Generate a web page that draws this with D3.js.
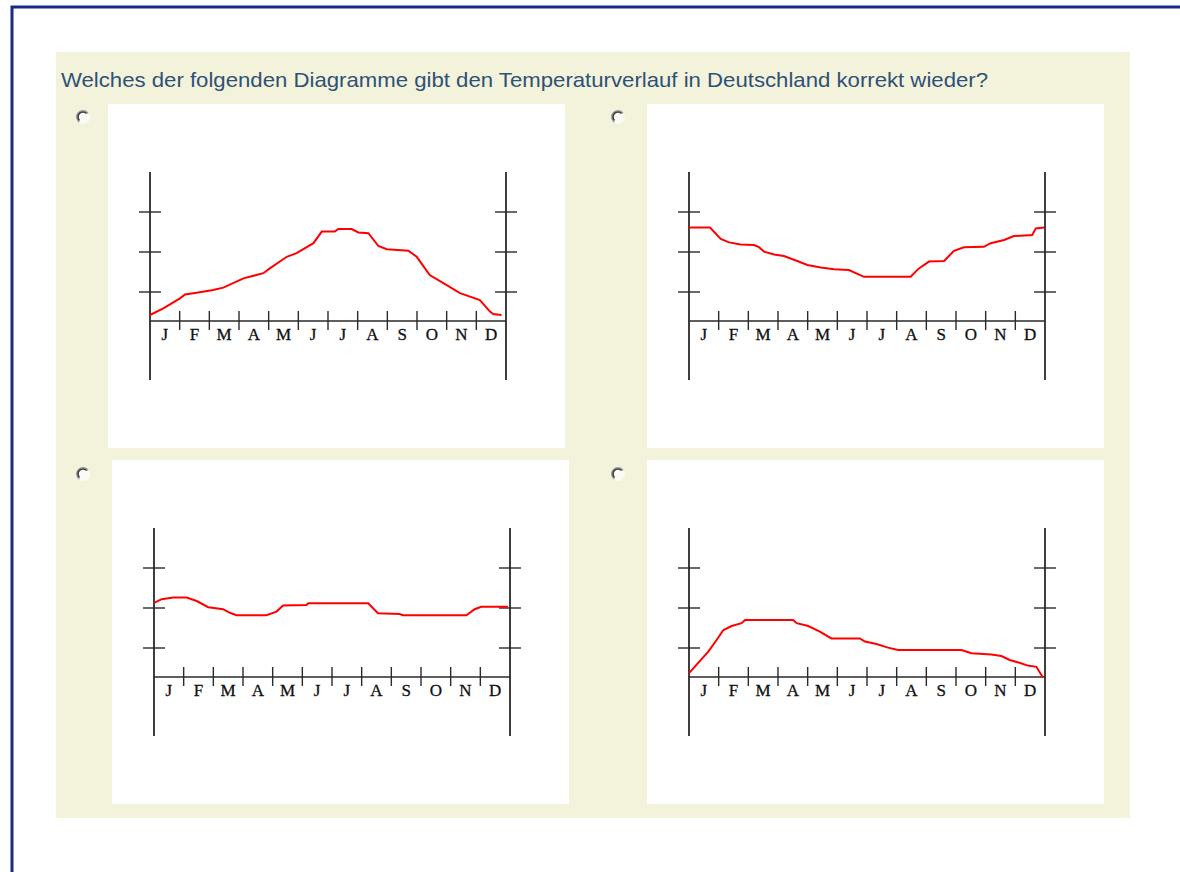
<!DOCTYPE html>
<html>
<head>
<meta charset="utf-8">
<script src="https://cdn.jsdelivr.net/npm/d3@7"></script>
<style>
  body { margin: 0; background: #fff; }
  svg { display: block; }
</style>
</head>
<body>
<div id="chart"></div>
<script>
// Fragetext und Monatsachse
const question = "Welches der folgenden Diagramme gibt den Temperaturverlauf in Deutschland korrekt wieder?";
const months = ["J", "F", "M", "A", "M", "J", "J", "A", "S", "O", "N", "D"];
const tempTicks = [0, 10, 20];

const curveA = [[0, -5.75], [0.45, -4.1], [1.01, -1.6], [1.18, -0.6], [1.57, -0.2], [2.13, 0.5], [2.47, 1.1],
    [3.15, 3.4], [3.82, 4.7], [4.04, 5.9], [4.61, 8.8], [4.94, 9.7], [5.51, 12.2], [5.79, 15.1], [6.23, 15.1],
    [6.35, 15.75], [6.8, 15.75], [7.02, 14.9], [7.36, 14.7], [7.7, 11.5], [7.98, 10.7], [8.71, 10.3], [8.99, 8.8],
    [9.43, 4.25], [9.89, 2.2], [10.45, -0.3], [11.12, -2], [11.46, -4.9], [11.57, -5.5], [11.85, -5.75]];

const curveB = [[0, 16.1], [0.71, 16.1], [1.07, 13.25], [1.35, 12.4], [1.74, 11.9], [2.19, 11.75], [2.36, 11.2],
    [2.53, 10.1], [2.87, 9.4], [3.2, 9], [3.65, 7.75], [3.99, 6.75], [4.44, 6.1], [4.89, 5.7], [5.39, 5.5],
    [5.9, 3.8], [7.47, 3.8], [7.75, 5.9], [8.09, 7.6], [8.6, 7.75], [8.93, 10.3], [9.27, 11.2], [9.94, 11.3],
    [10.17, 12.2], [10.62, 13], [10.95, 14], [11.57, 14.25], [11.69, 15.9], [11.97, 16.1]];

const curveC = [[0, 11.3], [0.26, 12.2], [0.65, 12.6], [1.1, 12.6], [1.44, 11.75], [1.83, 10.2], [2.33, 9.7],
    [2.56, 8.8], [2.78, 8.2], [3.79, 8.2], [4.13, 9.1], [4.35, 10.6], [5.14, 10.75], [5.2, 11.2], [7.22, 11.2],
    [7.55, 8.7], [8.28, 8.5], [8.39, 8.2], [10.53, 8.2], [10.81, 9.7], [11.03, 10.3], [11.93, 10.3]];

const curveD = [[0, -6.3], [0.65, -0.9], [0.93, 2], [1.16, 4.5], [1.44, 5.5], [1.77, 6.2], [1.89, 7], [3.51, 7],
    [3.63, 6.2], [4.02, 5.5], [4.41, 4.1], [4.8, 2.4], [5.76, 2.4], [5.93, 1.6], [6.32, 1], [6.71, 0.1],
    [7.05, -0.5], [9.18, -0.5], [9.52, -1.3], [10.19, -1.6], [10.53, -2], [10.81, -3], [11.14, -3.7],
    [11.42, -4.4], [11.71, -4.7], [11.93, -7.4]];

const width = 1180, height = 872;

const svg = d3.select("#chart")
    .append("svg")
    .attr("width", width)
    .attr("height", height);

// Rahmen (nur oben und links sichtbar)
svg.append("path")
    .attr("d", `M12,${height} L12,7 L${width},7`)
    .attr("fill", "none")
    .attr("stroke", "#1b2a84")
    .attr("stroke-width", 3);

// beiger Fragenblock
svg.append("rect")
    .attr("x", 56).attr("y", 52)
    .attr("width", 1074).attr("height", 766)
    .attr("fill", "#f3f3dc");

svg.append("text")
    .attr("x", 61).attr("y", 87)
    .attr("fill", "#2f5077")
    .attr("textLength", 927)
    .attr("lengthAdjust", "spacingAndGlyphs")
    .style("font-family", "Arial, 'Liberation Sans', sans-serif")
    .style("font-size", "21px")
    .text(question);

const panels = [
    { x: 108, y: 104, rx: 83, ry: 117, data: curveA },
    { x: 647, y: 104, rx: 618, ry: 117, data: curveB },
    { x: 112, y: 460, rx: 83, ry: 474, data: curveC },
    { x: 647, y: 460, rx: 618, ry: 474, data: curveD }
];

// Skalen relativ zum Panel
const xScale = d3.scaleLinear().domain([0, 12]).range([42, 398]);
const yScale = d3.scaleLinear().domain([-7.25, 20]).range([217, 108]);
const baseY = yScale(-7.25);

const line = d3.line()
    .x(d => xScale(d[0]))
    .y(d => yScale(d[1]));

const axisColor = "#2a2a2a";

panels.forEach(p => {
    // Radiobutton
    const radio = svg.append("g").attr("transform", `translate(${p.rx},${p.ry})`);
    radio.append("circle").attr("r", 7).attr("fill", "#fbfbf6");
    radio.append("path")
        .attr("d", d3.arc().innerRadius(5.6).outerRadius(7).startAngle(-Math.PI * 0.8).endAngle(Math.PI * 0.3)())
        .attr("fill", "#9a9a9a");
    radio.append("path")
        .attr("d", d3.arc().innerRadius(4.2).outerRadius(5.8).startAngle(-Math.PI * 0.75).endAngle(Math.PI * 0.25)())
        .attr("fill", "#3c3c3c");

    const g = svg.append("g").attr("transform", `translate(${p.x},${p.y})`);

    g.append("rect")
        .attr("width", 457).attr("height", 344)
        .attr("fill", "#fff");

    // senkrechte Achsen links und rechts
    [0, 12].forEach(m => {
        g.append("line")
            .attr("x1", xScale(m)).attr("x2", xScale(m))
            .attr("y1", 68).attr("y2", 276)
            .attr("stroke", axisColor).attr("stroke-width", 1.8);
        g.selectAll(null)
            .data(tempTicks)
            .enter()
            .append("line")
            .attr("x1", xScale(m) - 11).attr("x2", xScale(m) + 11)
            .attr("y1", d => yScale(d)).attr("y2", d => yScale(d))
            .attr("stroke", axisColor).attr("stroke-width", 1.4);
    });

    // Grundlinie mit Monatsstrichen
    g.append("line")
        .attr("x1", xScale(0)).attr("x2", xScale(12))
        .attr("y1", baseY).attr("y2", baseY)
        .attr("stroke", axisColor).attr("stroke-width", 1.4);

    g.selectAll(null)
        .data(d3.range(1, 12))
        .enter()
        .append("line")
        .attr("x1", d => xScale(d)).attr("x2", d => xScale(d))
        .attr("y1", baseY - 10).attr("y2", baseY + 9)
        .attr("stroke", axisColor).attr("stroke-width", 1.4);

    g.selectAll(null)
        .data(months)
        .enter()
        .append("text")
        .attr("x", (d, i) => xScale(i + 0.5))
        .attr("y", baseY + 19)
        .attr("text-anchor", "middle")
        .style("font-family", "'Liberation Serif', 'DejaVu Serif', serif")
        .style("font-size", "17px")
        .attr("fill", "#111")
        .attr("stroke", "#111")
        .attr("stroke-width", 0.3)
        .text(d => d);

    g.append("path")
        .datum(p.data)
        .attr("d", line)
        .attr("fill", "none")
        .attr("stroke", "#ff0000")
        .attr("stroke-width", 2);
});
</script>
</body>
</html>
